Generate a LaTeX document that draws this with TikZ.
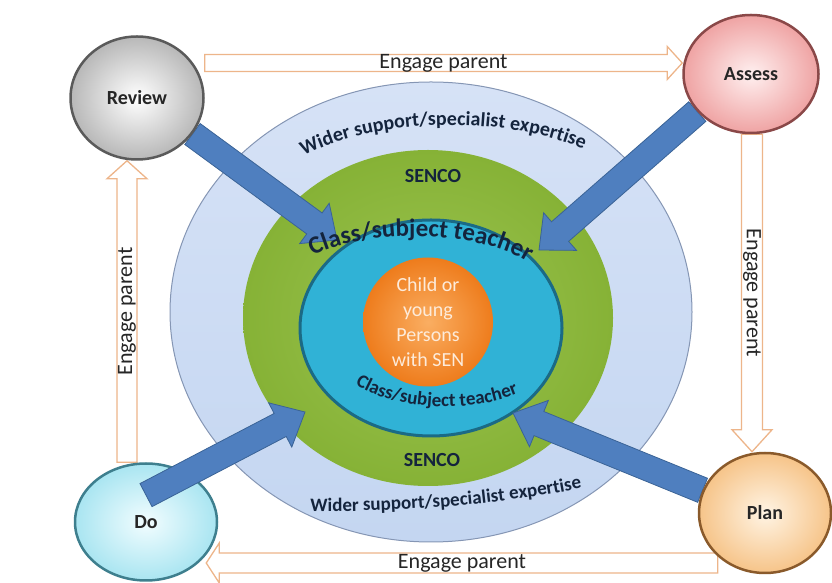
\documentclass[tikz,border=0pt]{standalone}
\usepackage{fontspec}
\setmainfont{Carlito}
\usepackage{tikz}
\usetikzlibrary{arrows.meta, positioning, shapes.geometric, calc, decorations.text}

\definecolor{ringblue}{HTML}{C4D6F1}
\definecolor{ringbluetop}{HTML}{D6E2F6}
\definecolor{ringblueedge}{HTML}{8596B4}
\definecolor{ringgreen}{HTML}{86B236}
\definecolor{ringgreenin}{HTML}{9CC451}
\definecolor{ringteal}{HTML}{30B2D6}
\definecolor{ringtealedge}{HTML}{1B6A85}
\definecolor{corein}{HTML}{FAAE62}
\definecolor{coreout}{HTML}{EE7C1C}
\definecolor{coretext}{HTML}{FDEBDA}
\definecolor{arrowblue}{HTML}{4F7FBF}
\definecolor{arrowblueedge}{HTML}{3A6396}
\definecolor{parentline}{HTML}{EDB58A}
\definecolor{labelnavy}{HTML}{14243D}
\definecolor{reviewedge}{HTML}{5A5A5A}
\definecolor{assessin}{HTML}{FFF0F0}
\definecolor{assessout}{HTML}{EFA3A3}
\definecolor{assessedge}{HTML}{8A4848}
\definecolor{doin}{HTML}{F2FDFF}
\definecolor{doout}{HTML}{A9E5F1}
\definecolor{doedge}{HTML}{3E7F8E}
\definecolor{planin}{HTML}{FFF4E4}
\definecolor{planout}{HTML}{F6C489}
\definecolor{planedge}{HTML}{8A5A2B}

\pgfdeclarelayer{bg}
\pgfdeclarelayer{mid}
\pgfsetlayers{bg,mid,main}

\newcommand{\widerfont}{\fontsize{20}{24}\selectfont\bfseries}
\newcommand{\widerlowfont}{\fontsize{19}{23}\selectfont\bfseries}
\newcommand{\teacherfont}{\fontsize{25}{30}\selectfont\bfseries}
\newcommand{\teacherlowfont}{\fontsize{19}{23}\selectfont\bfseries}

% broad arrow: style, from, to, half shaft, half head, head length
\newcommand{\broadarrow}[6]{%
  \coordinate (ba) at ($(#3)!#6!(#2)$);
  \draw[#1] ($(#2)!#4!90:(#3)$) -- ($(ba)!#4!90:(#3)$) -- ($(ba)!#5!90:(#3)$)
    -- (#3) -- ($(ba)!#5!-90:(#3)$) -- ($(ba)!#4!-90:(#3)$)
    -- ($(#2)!#4!-90:(#3)$) -- cycle;
}

\begin{document}
\begin{tikzpicture}[x=1pt, y=1pt,
    stage/.style={ellipse, inner sep=0pt, line width=2.5pt,
      font=\fontsize{20}{24}\selectfont\bfseries, text=black!85},
    ring/.style={ellipse, inner sep=0pt},
    teacharrow/.style={fill=arrowblue, draw=arrowblueedge, line width=0.8pt},
    parentarrow/.style={fill=white, draw=parentline, line width=1.3pt},
    parenttext/.style={font=\fontsize{22}{26}\selectfont, text=black!85, inner sep=0pt},
    ringtext/.style={font=\fontsize{20}{24}\selectfont\bfseries, text=labelnavy},
    curvetext/.style={decorate, decoration={text along path, text align=center,
      text color=labelnavy}}]
  \useasboundingbox (0,0) rectangle (832,583);

  % Draw rings
  \begin{pgfonlayer}{bg}
    \node[ring, minimum width=522pt, minimum height=460pt, draw=ringblueedge,
      line width=1pt, top color=ringbluetop, bottom color=ringblue] (wider) at (431,271) {};
    \node[ring, minimum width=370pt, minimum height=336pt,
      inner color=ringgreenin, outer color=ringgreen] (senco) at (428,265) {};
    \node[ring, minimum width=262pt, minimum height=216pt, fill=ringteal,
      draw=ringtealedge, line width=3pt] (teacher) at (431,255) {};
    \node[ring, minimum width=130pt, minimum height=129pt, inner color=corein,
      outer color=coreout, align=center, text=coretext,
      font=\fontsize{20}{25}\selectfont] (child) at (428,261)
      {Child or\\young\\Persons\\with SEN};
  \end{pgfonlayer}

  % Stages
  \node[stage, minimum width=133pt, minimum height=123pt, draw=reviewedge,
    inner color=white, outer color=black!28] (review) at (137,485) {Review};
  \node[stage, minimum width=135pt, minimum height=118pt, draw=assessedge,
    inner color=assessin, outer color=assessout] (assess) at (751,509) {Assess};
  \node[stage, minimum width=142pt, minimum height=117pt, draw=doedge,
    inner color=doin, outer color=doout] (do) at (146,61) {Do};
  \node[stage, minimum width=132pt, minimum height=120pt, draw=planedge,
    inner color=planin, outer color=planout] (plan) at (765,70) {Plan};

  % Lanes of the parent arrows
  \coordinate (topLane) at (0,520);
  \coordinate (botLane) at (0,20);
  \coordinate (leftLane) at (127,0);
  \coordinate (rightLane) at (752,0);
  \coordinate (topA) at (review.east |- topLane);
  \coordinate (topB) at (assess.west |- topLane);
  \coordinate (rightA) at (assess.south -| rightLane);
  \coordinate (rightB) at (plan.north -| rightLane);
  \coordinate (botA) at ($(plan.west |- botLane)+(20,0)$);
  \coordinate (botB) at ($(do.east |- botLane)+(-12,0)$);
  \coordinate (leftA) at (do.north -| leftLane);
  \coordinate (leftB) at (review.south -| leftLane);

  % Tips of the teacher arrows
  \coordinate (tipReview) at (337,343);
  \coordinate (tipAssess) at (539,333);
  \coordinate (tipDo) at (305,171);
  \coordinate (tipPlan) at (513,170);
  \coordinate (doStart) at ($(do.center)!0.45!(do.north)$);

  \begin{pgfonlayer}{mid}
    \broadarrow{parentarrow}{topA}{topB}{8.5pt}{16.5pt}{15pt}
    \broadarrow{parentarrow}{rightA}{rightB}{10.5pt}{20pt}{22pt}
    \broadarrow{parentarrow}{botA}{botB}{10pt}{20pt}{13pt}
    \broadarrow{parentarrow}{leftA}{leftB}{10pt}{20pt}{18pt}
    \broadarrow{teacharrow}{review.-33}{tipReview}{13pt}{25pt}{28pt}
    \broadarrow{teacharrow}{assess.215}{tipAssess}{13pt}{25pt}{28pt}
    \broadarrow{teacharrow}{plan.160}{tipPlan}{13pt}{25pt}{28pt}
  \end{pgfonlayer}
  \broadarrow{teacharrow}{doStart}{tipDo}{13pt}{25pt}{28pt}

  % Parent labels
  \path (topA) -- (topB) node[midway, parenttext] {Engage parent};
  \path (rightA) -- (rightB) node[midway, parenttext, rotate=-90] {Engage parent};
  \path (botA) -- (botB) node[midway, parenttext] {Engage parent};
  \path (leftA) -- (leftB) node[midway, parenttext, rotate=90] {Engage parent};

  % Ring labels
  \path[curvetext, decoration={text={|\widerfont|Wider support/specialist expertise}}]
    (306,428) .. controls (380,465) and (500,468) .. (581,435);
  \path[curvetext, decoration={text={|\widerlowfont|Wider support/specialist expertise}}]
    (296,72) .. controls (400,70) and (505,78) .. (596,98);
  \node[ringtext] (sencoTop) at (433,407) {SENCO};
  \node[ringtext] (sencoBot) at (432,123) {SENCO};
  \path[curvetext, decoration={text={|\teacherfont|Class/subject teacher}}]
    (308,325) .. controls (360,355) and (480,355) .. (532,318);
  \path[curvetext, decoration={text={|\teacherlowfont|Class/subject teacher}}]
    (352,201) .. controls (390,173) and (470,168) .. (522,191);
\end{tikzpicture}
\end{document}
